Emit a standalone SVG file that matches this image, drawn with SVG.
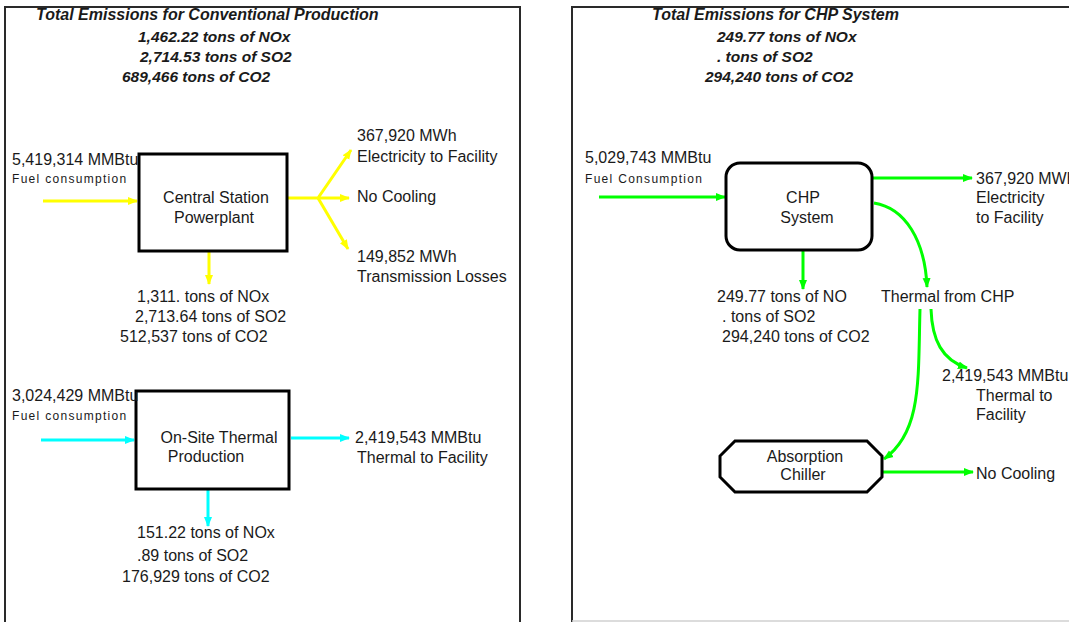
<svg xmlns="http://www.w3.org/2000/svg" width="1069" height="622" viewBox="0 0 1069 622">
<style>
text{font-family:"Liberation Sans",Arial,sans-serif;fill:#1a1a1a;font-size:16px}
.t{font-weight:bold;font-style:italic;font-size:15.5px}
.tt{font-weight:bold;font-style:italic;font-size:16px}
.s{font-size:12px;letter-spacing:1.3px}
.c{text-anchor:middle}
.frame{fill:none;stroke:#2a2a2a;stroke-width:2}
.box{fill:#fff;stroke:#000;stroke-width:3}
.y{stroke:#ffff00;stroke-width:3;fill:none}
.cy{stroke:#00ffff;stroke-width:3;fill:none}
.g{stroke:#00ff00;stroke-width:3;fill:none}
</style>
<defs>
<marker id="ay" markerUnits="userSpaceOnUse" markerWidth="10" markerHeight="10" viewBox="0 0 10 10" refX="9" refY="5" orient="auto"><path d="M0,1 L10,5 L0,9 Z" fill="#ffff00"/></marker>
<marker id="ac" markerUnits="userSpaceOnUse" markerWidth="10" markerHeight="10" viewBox="0 0 10 10" refX="9" refY="5" orient="auto"><path d="M0,1 L10,5 L0,9 Z" fill="#00ffff"/></marker>
<marker id="ag" markerUnits="userSpaceOnUse" markerWidth="10" markerHeight="10" viewBox="0 0 10 10" refX="9" refY="5" orient="auto"><path d="M0,1 L10,5 L0,9 Z" fill="#00ff00"/></marker>
</defs>
<rect width="1069" height="622" fill="#fff"/>
<g id="frames">
<path class="frame" d="M5,640 V7 H520 V640"/>
<path class="frame" d="M572,640 V7 H1080"/>
<line x1="572" y1="621" x2="1069" y2="621" stroke="#d0d0d0" stroke-width="1.5"/>
</g>
<g id="conv-totals">
<text class="tt" x="36" y="20">Total Emissions for Conventional Production</text>
<text class="t" x="138" y="42">1,462.22 tons of NOx</text>
<text class="t" x="140" y="62">2,714.53 tons of SO2</text>
<text class="t" x="122" y="82">689,466 tons of CO2</text>
</g>
<g id="chp-totals">
<text class="tt" x="652" y="20">Total Emissions for CHP System</text>
<text class="t" x="717" y="42">249.77 tons of NOx</text>
<text class="t" x="717" y="62">. tons of SO2</text>
<text class="t" x="705" y="82">294,240 tons of CO2</text>
</g>
<g id="connectors">
<line class="y" x1="43" y1="201" x2="137" y2="201" marker-end="url(#ay)"/>
<polyline class="y" points="287,198 318,198 351,150" marker-end="url(#ay)"/>
<line class="y" x1="318" y1="198" x2="349" y2="198" marker-end="url(#ay)"/>
<line class="y" x1="318" y1="198" x2="348" y2="249" marker-end="url(#ay)"/>
<line class="y" x1="209" y1="252" x2="209" y2="284" marker-end="url(#ay)"/>
<line class="cy" x1="41" y1="440" x2="134" y2="440" marker-end="url(#ac)"/>
<line class="cy" x1="291" y1="438" x2="349" y2="438" marker-end="url(#ac)"/>
<line class="cy" x1="208" y1="490" x2="208" y2="526" marker-end="url(#ac)"/>
<line class="g" x1="599" y1="197" x2="725" y2="197" marker-end="url(#ag)"/>
<line class="g" x1="873" y1="178" x2="972" y2="178" stroke-width="2" marker-end="url(#ag)"/>
<path class="g" d="M874,203 C905,208 925,240 927,287" marker-end="url(#ag)"/>
<line class="g" x1="803" y1="251" x2="803" y2="289" marker-end="url(#ag)"/>
<path class="g" d="M931,309 C932,340 942,360 967,368" marker-end="url(#ag)"/>
<path class="g" d="M920,309 C918,380 922,432 884,459" marker-end="url(#ag)"/>
<line class="g" x1="883" y1="472" x2="973" y2="472" stroke-width="2" marker-end="url(#ag)"/>
</g>
<g id="central-station">
<rect class="box" x="139" y="154" width="148" height="97"/>
<text class="c" x="216" y="203">Central Station</text>
<text class="c" x="214" y="223">Powerplant</text>
</g>
<g id="central-labels">
<text x="12" y="165">5,419,314 MMBtu</text>
<text class="s" x="12" y="183">Fuel consumption</text>
<text x="357" y="141">367,920 MWh</text>
<text x="357" y="162">Electricity to Facility</text>
<text x="357" y="202">No Cooling</text>
<text x="357" y="262">149,852 MWh</text>
<text x="357" y="282">Transmission Losses</text>
<text x="137" y="302">1,311. tons of NOx</text>
<text x="135" y="322">2,713.64 tons of SO2</text>
<text x="120" y="342">512,537 tons of CO2</text>
</g>
<g id="onsite-thermal">
<rect class="box" x="136" y="391" width="153" height="98"/>
<text class="c" x="219" y="443">On-Site Thermal</text>
<text class="c" x="206" y="462">Production</text>
</g>
<g id="onsite-labels">
<text x="12" y="401">3,024,429 MMBtu</text>
<text class="s" x="12" y="420">Fuel consumption</text>
<text x="355" y="443">2,419,543 MMBtu</text>
<text x="357" y="463">Thermal to Facility</text>
<text x="137" y="538">151.22 tons of NOx</text>
<text x="137" y="561">.89 tons of SO2</text>
<text x="122" y="582">176,929 tons of CO2</text>
</g>
<g id="chp">
<rect class="box" x="726" y="163" width="146" height="87" rx="14"/>
<text class="c" x="803" y="203">CHP</text>
<text class="c" x="807" y="223">System</text>
</g>
<g id="chp-labels">
<text x="585" y="163">5,029,743 MMBtu</text>
<text class="s" x="585" y="183">Fuel Consumption</text>
<text x="976" y="184">367,920 MWh</text>
<text x="976" y="203">Electricity</text>
<text x="976" y="223">to Facility</text>
<text x="717" y="302">249.77 tons of NO</text>
<text x="722" y="322">. tons of SO2</text>
<text x="722" y="342">294,240 tons of CO2</text>
<text x="881" y="302">Thermal from CHP</text>
<text x="942" y="381">2,419,543 MMBtu</text>
<text x="976" y="401">Thermal to</text>
<text x="976" y="420">Facility</text>
<text x="976" y="479">No Cooling</text>
</g>
<g id="absorption-chiller">
<polygon class="box" points="735,441 867,441 882,456 882,477 867,492 735,492 720,477 720,456"/>
<text class="c" x="805" y="462">Absorption</text>
<text class="c" x="803" y="480">Chiller</text>
</g>
</svg>
